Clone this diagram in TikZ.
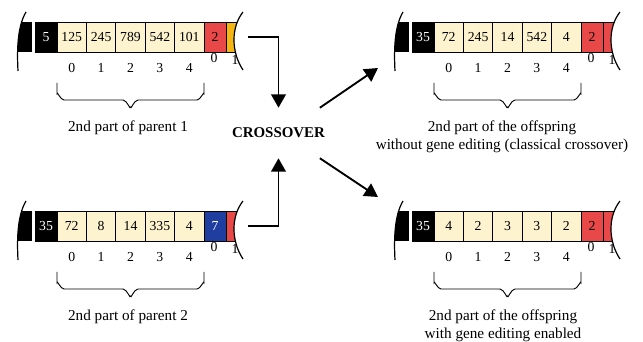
\documentclass[tikz,border=0pt]{standalone}
\usepackage{fontspec}
\setmainfont{Liberation Serif}
\usetikzlibrary{arrows.meta}

\definecolor{genecream}{RGB}{253,243,206}
\definecolor{tailred}{RGB}{232,72,72}
\definecolor{tailorange}{RGB}{245,182,20}
\definecolor{tailblue}{RGB}{32,62,160}

\tikzset{
	cellbox/.style={draw,line width=0.6pt,inner sep=0pt,minimum height=22.5pt,font=\fontsize{10.3}{12}\selectfont},
	headcell/.style={cellbox,fill=black,text=white,minimum width=16.5pt},
	genecell/.style={cellbox,fill=genecream,minimum width=22.05pt},
	tailcell/.style={cellbox,minimum width=16.5pt},
	indexlabel/.style={font=\fontsize{10.3}{12}\selectfont,inner sep=0pt},
	partlabel/.style={font=\fontsize{11.4}{13.5}\selectfont,align=center,inner sep=0pt},
	crosslabel/.style={font=\fontsize{11.2}{13}\selectfont\bfseries,inner sep=0pt,minimum height=37.5pt},
	breakline/.style={line width=0.9pt},
	genebrace/.style={line width=0.7pt},
	flowarrow/.style={line width=1.4pt,-{Triangle[length=10pt,width=11pt]}}}

% #1 name, #2 #3 position, #4 head value, #5 genes, #6 tail fill, #7 tail text, #8 tail value, #9 next fill
\newcommand{\chromosome}[9]{%
	\begin{scope}[shift={(#2,#3)}]
		% left break
		\begin{scope}
			\clip (-9,-25) .. controls (-18,-10) and (-18,15) .. (-17,34) -- (-3,34) -- (-3,-25) -- cycle;
			\fill (-25,-15) rectangle (-3,15);
		\end{scope}
		\draw[breakline] (-9,-25) .. controls (-18,-10) and (-18,15) .. (-17,34);
		% right break
		\begin{scope}
			\clip (208,-25) .. controls (196,-10) and (196,15) .. (208,33) -- (191,33) -- (191,-25) -- cycle;
			\filldraw[fill=#9,line width=0.6pt] (191,-15) rectangle (215,15);
		\end{scope}
		\draw[breakline] (208,-25) .. controls (196,-10) and (196,15) .. (208,33);
		% cells
		\node[headcell] (#1h) at (11,0) {#4};
		\foreach \val [count=\k from 0] in {#5}
			\node[genecell] (#1g\k) at (36.7+29.4*\k,0) {\val};
		\node[tailcell,fill=#6,text=#7] (#1t) at (180,0) {#8};
		% indices
		\foreach \k in {0,...,4}
			\node[indexlabel] (#1i\k) at (36.7+29.4*\k,31) {\k};
		\node[indexlabel] (#1j0) at (179,21) {0};
		\node[indexlabel] (#1j1) at (200,23) {1};
		% brace
		\draw[genebrace] (22,46) -- (22,57) to[out=-90,in=180] (29,63) -- (88,63) to[out=0,in=90] (95.5,70)
			to[out=90,in=180] (103,63) -- (162,63) to[out=0,in=-90] (169,57) -- (169,46);
		\coordinate (#1e) at (213,0);
	\end{scope}}

\begin{document}
\begin{tikzpicture}[x=0.75pt,y=0.75pt,yscale=-1,xscale=1]
	\useasboundingbox (0,0) rectangle (643,342);

	% Parents
	\chromosome{pa}{35}{37}{5}{125,245,789,542,101}{tailred}{black}{2}{tailorange}
	\chromosome{pb}{35}{226}{35}{72,8,14,335,4}{tailblue}{white}{7}{tailred}
	% Offspring
	\chromosome{oa}{412}{37}{35}{72,245,14,542,4}{tailred}{black}{2}{tailred}
	\chromosome{ob}{412}{226}{35}{4,2,3,3,2}{tailred}{black}{2}{tailred}

	% Text Node
	\node[partlabel] (palabel) at (128,128) {2nd part of parent 1};
	% Text Node
	\node[partlabel] (pblabel) at (128,317) {2nd part of parent 2};
	% Text Node
	\node[partlabel] (oalabel) at (502,136.5) {2nd part of the offspring\\without gene editing (classical crossover)};
	% Text Node
	\node[partlabel] (oblabel) at (503,325.5) {2nd part of the offspring\\with gene editing enabled};
	% Text Node
	\node[crosslabel] (cross) at (278.5,133) {CROSSOVER};

	\coordinate (oain) at (378,68);
	\coordinate (obin) at (378,197);
	% Arrows
	\draw[flowarrow] (pae) -| (cross.north);
	\draw[flowarrow] (pbe) -| (cross.south);
	\draw[flowarrow] ([xshift=-4pt]cross.north east) -- (oain);
	\draw[flowarrow] ([xshift=-4pt]cross.south east) -- (obin);
\end{tikzpicture}
\end{document}
